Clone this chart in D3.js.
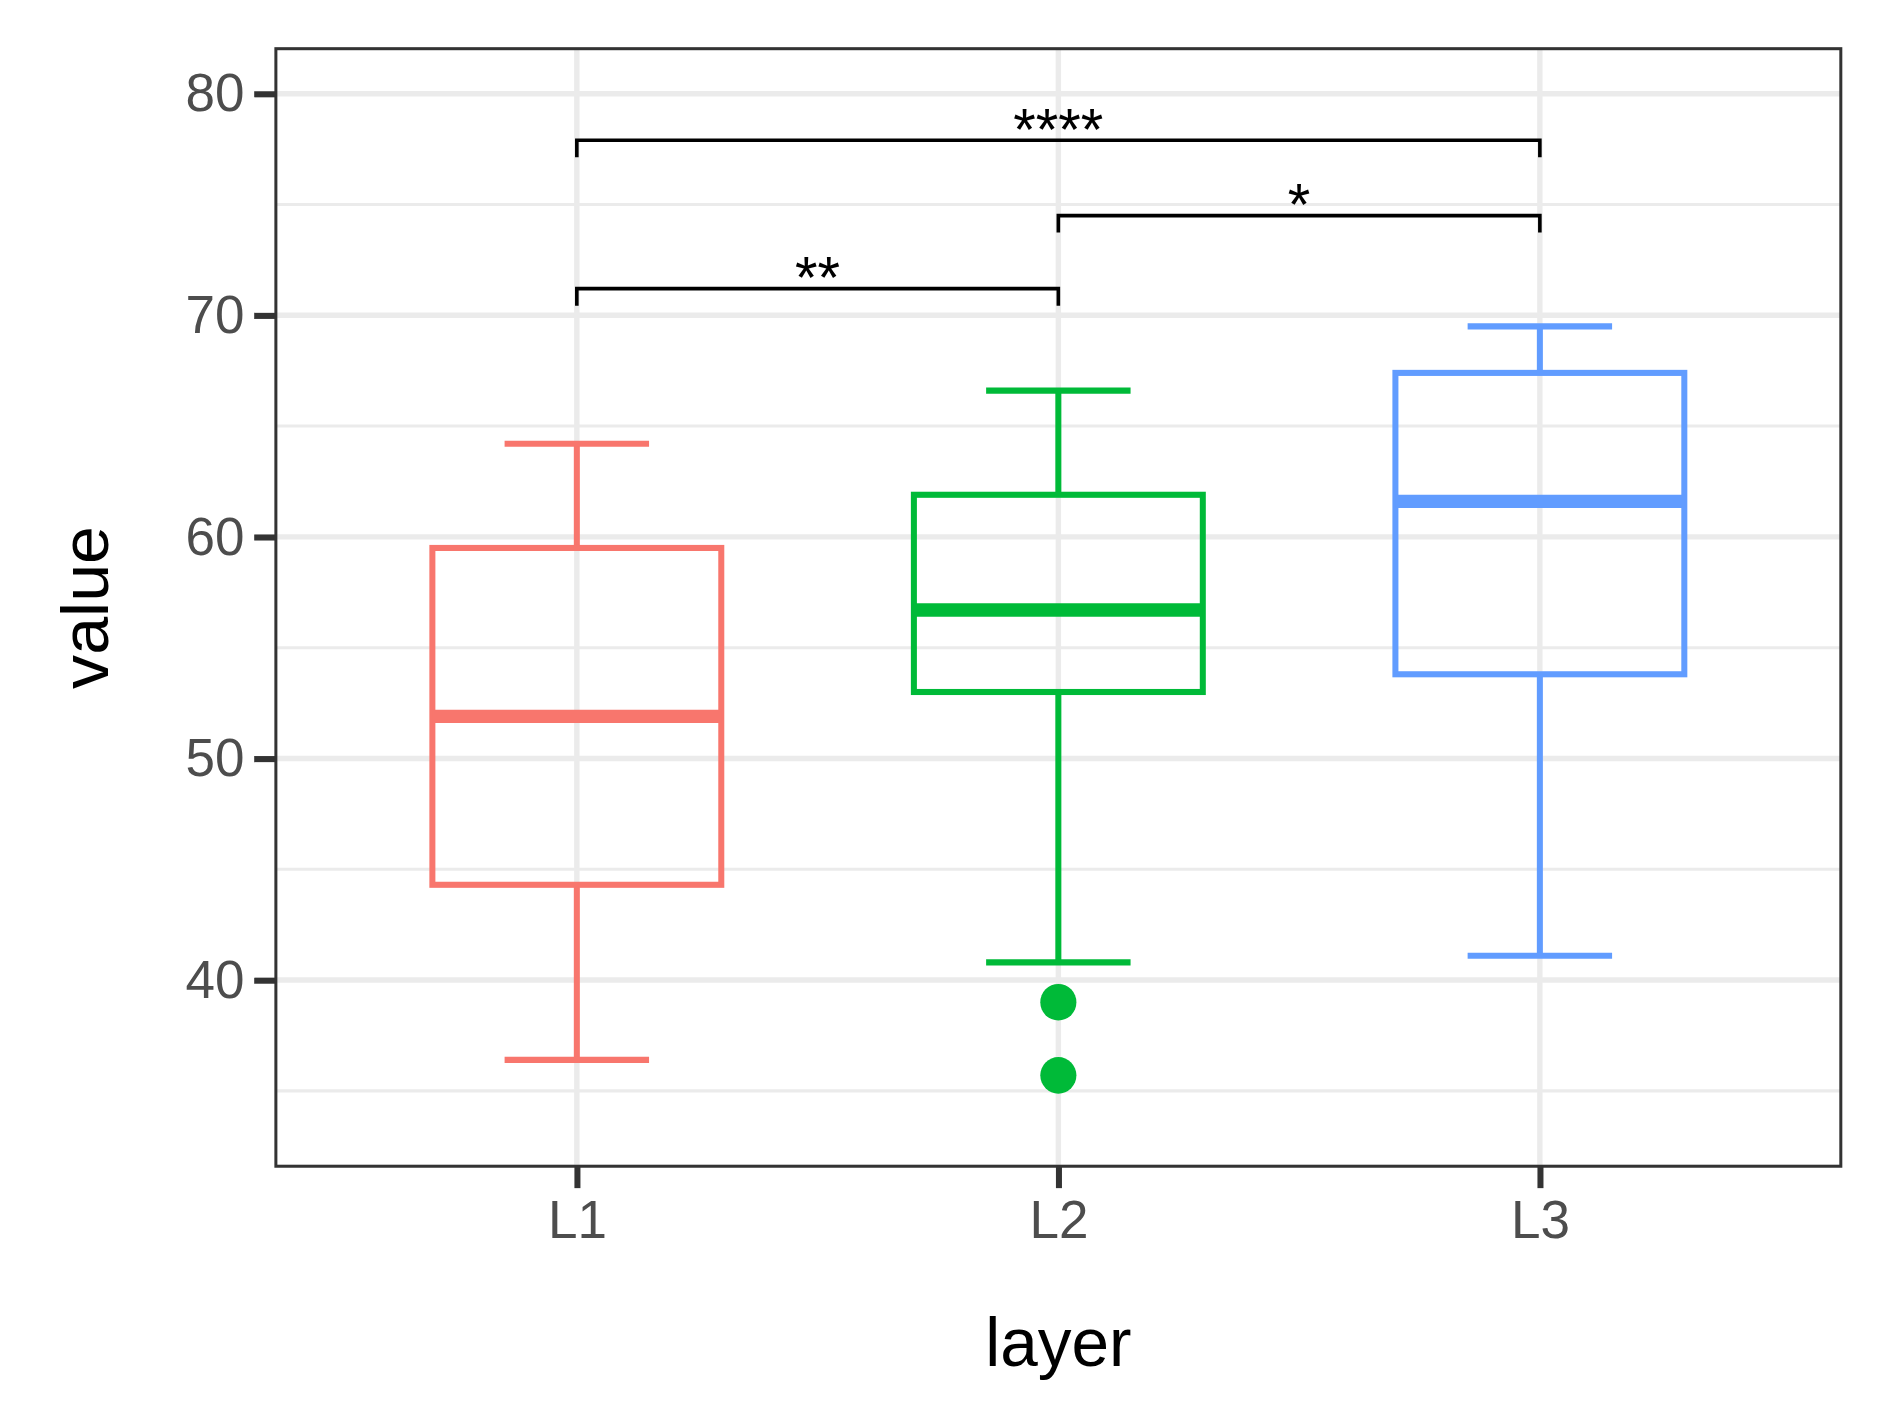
<!DOCTYPE html>
<html><head><meta charset="utf-8">
<script src="https://cdn.jsdelivr.net/npm/d3@7"></script>
<style>body{margin:0;background:#fff}text{font-family:"Liberation Sans",Arial,sans-serif}</style>
</head><body><div id="chart"></div>
<script>
const layers = ["L1", "L2", "L3"]
const colors = ["#F8766D", "#00BA38", "#619CFF"]
const lower = [36.4, 40.8, 41.1]
const q1 = [44.3, 53.0, 53.8]
const median = [51.9, 56.7, 61.6]
const q3 = [59.5, 61.9, 67.4]
const upper = [64.2, 66.6, 69.5]
const outliers = [[], [39.0, 35.7], []]
const yTicks = [40, 50, 60, 70, 80]
const yMinor = [35, 45, 55, 65, 75]
const comparisons = [
  {from: "L1", to: "L2", y: 71.2, label: "**"},
  {from: "L2", to: "L3", y: 74.5, label: "*"},
  {from: "L1", to: "L3", y: 77.9, label: "****"}
]

const MARGIN = {LEFT: 229, TOP: 40}
const WIDTH = 1299, HEIGHT = 918

const svg = d3.select("#chart").append("svg")
  .attr("width", 1889).attr("height", 1417)
  .attr("viewBox", "0 0 1568 1164").attr("preserveAspectRatio", "none")
const g = svg.append("g").attr("transform", `translate(${MARGIN.LEFT}, ${MARGIN.TOP})`)

const y = d3.scaleLinear().domain([31.6, 82.03]).range([HEIGHT, 0])
const x = d3.scalePoint().domain(layers).range([0, WIDTH]).padding(0.625)
const step = x.step()

// grid
g.selectAll(".minor").data(yMinor).enter().append("line")
  .attr("x1", 0).attr("x2", WIDTH).attr("y1", d => y(d)).attr("y2", d => y(d))
  .attr("stroke", "#ebebeb").attr("stroke-width", 2.5)
g.selectAll(".major").data(yTicks).enter().append("line")
  .attr("x1", 0).attr("x2", WIDTH).attr("y1", d => y(d)).attr("y2", d => y(d))
  .attr("stroke", "#ebebeb").attr("stroke-width", 4.5)
g.selectAll(".vgrid").data(layers).enter().append("line")
  .attr("x1", d => x(d)).attr("x2", d => x(d)).attr("y1", 0).attr("y2", HEIGHT)
  .attr("stroke", "#ebebeb").attr("stroke-width", 4.5)

// boxes
layers.forEach((l, i) => {
  const cx = x(l), bw = step * 0.6, cw = step * 0.3
  const c = colors[i]
  const b = g.append("g").attr("stroke", c).attr("fill", "none").attr("stroke-width", 5)
  b.append("line").attr("x1", cx).attr("x2", cx).attr("y1", y(lower[i])).attr("y2", y(q1[i]))
  b.append("line").attr("x1", cx).attr("x2", cx).attr("y1", y(q3[i])).attr("y2", y(upper[i]))
  b.append("line").attr("x1", cx - cw / 2).attr("x2", cx + cw / 2).attr("y1", y(lower[i])).attr("y2", y(lower[i]))
  b.append("line").attr("x1", cx - cw / 2).attr("x2", cx + cw / 2).attr("y1", y(upper[i])).attr("y2", y(upper[i]))
  b.append("rect").attr("x", cx - bw / 2).attr("width", bw)
    .attr("y", y(q3[i])).attr("height", y(q1[i]) - y(q3[i]))
  b.append("line").attr("x1", cx - bw / 2).attr("x2", cx + bw / 2)
    .attr("y1", y(median[i])).attr("y2", y(median[i])).attr("stroke-width", 11)
  outliers[i].forEach(o => g.append("circle").attr("cx", cx).attr("cy", y(o)).attr("r", 15).attr("fill", c))
})

// significance brackets
comparisons.forEach(cmp => {
  const x1 = x(cmp.from), x2 = x(cmp.to), yy = y(cmp.y)
  g.append("path").attr("d", `M${x1},${yy + 14}V${yy}H${x2}V${yy + 14}`)
    .attr("fill", "none").attr("stroke", "#000").attr("stroke-width", 3)
  g.append("text").attr("x", (x1 + x2) / 2).attr("y", yy + 8).attr("text-anchor", "middle")
    .attr("font-size", 48).text(cmp.label)
})

// panel border
g.append("rect").attr("width", WIDTH).attr("height", HEIGHT)
  .attr("fill", "none").attr("stroke", "#333").attr("stroke-width", 2.5)

// axes
const yAxis = g.append("g").call(d3.axisLeft(y).tickValues(yTicks).tickSize(18).tickPadding(8))
yAxis.select(".domain").remove()
yAxis.selectAll("line").attr("stroke", "#333").attr("stroke-width", 5)
yAxis.selectAll("text").attr("font-size", 44).attr("fill", "#4d4d4d")
  .attr("font-family", "Liberation Sans, Arial, sans-serif")

const xAxis = g.append("g").attr("transform", `translate(0, ${HEIGHT})`)
  .call(d3.axisBottom(x).tickSize(18).tickPadding(10))
xAxis.select(".domain").remove()
xAxis.selectAll("line").attr("stroke", "#333").attr("stroke-width", 5)
xAxis.selectAll("text").attr("font-size", 44).attr("fill", "#4d4d4d")
  .attr("font-family", "Liberation Sans, Arial, sans-serif")

// axis titles
svg.append("text").attr("x", MARGIN.LEFT + WIDTH / 2).attr("y", 1122)
  .attr("text-anchor", "middle").attr("font-size", 56).text("layer")
svg.append("text").attr("transform", `translate(90, ${MARGIN.TOP + HEIGHT / 2}) rotate(-90)`)
  .attr("text-anchor", "middle").attr("font-size", 56).text("value")
</script></body></html>
